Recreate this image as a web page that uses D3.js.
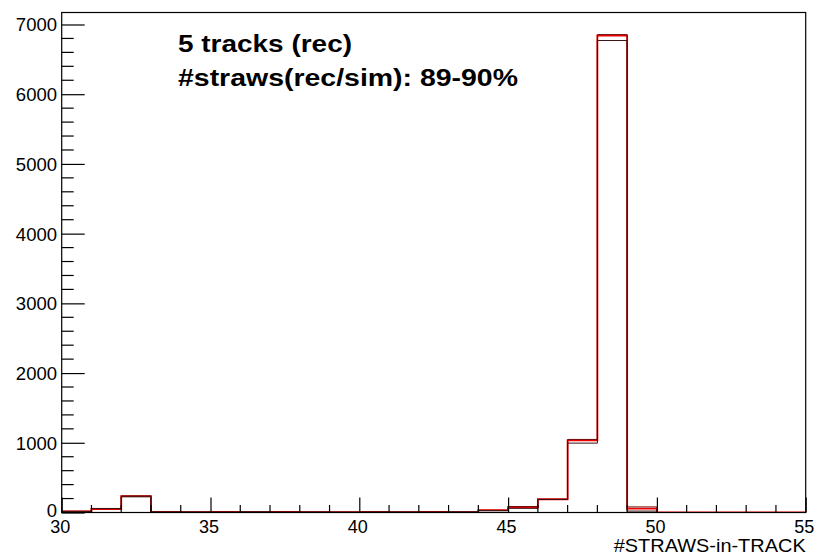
<!DOCTYPE html>
<html>
<head>
<meta charset="utf-8">
<script src="https://cdn.jsdelivr.net/npm/d3@7"></script>
<style>
  html, body { margin: 0; padding: 0; background: #fff; }
  svg { display: block; }
  text { font-family: "Liberation Sans", Arial, Helvetica, sans-serif; fill: #000; }
</style>
</head>
<body>
<svg id="chart" width="816" height="559"></svg>
<script>
// Bin lower edges (unit-width bins from 30 to 55)
const binEdges = d3.range(30, 55);

// Entries per bin for the overlaid reconstructions
const countsRed = [15, 50, 235, 8, 5, 10, 5, 9, 4, 6, 8, 5, 9, 6, 35, 75, 190, 1035, 6840, 55, 0, 0, 0, 0, 0];
const countsDark = [18, 58, 238, 6, 7, 6, 8, 5, 7, 5, 6, 7, 6, 8, 30, 85, 188, 1048, 6855, 80, 0, 0, 0, 0, 0];
const countsBlack = [12, 55, 225, 7, 6, 5, 9, 6, 6, 4, 7, 6, 5, 7, 25, 60, 188, 995, 6770, 20, 0, 0, 0, 0, 0];

const xTickValues = [30, 35, 40, 45, 50, 55];
const yTickValues = [0, 1000, 2000, 3000, 4000, 5000, 6000, 7000];

const titleLines = ["5 tracks (rec)", "#straws(rec/sim): 89-90%"];
const xAxisTitle = "#STRAWS-in-TRACK";

const frame = { left: 61.7, right: 805.7, top: 12.5, bottom: 512.5 };

const svg = d3.select("#chart");

const x = d3.scaleLinear().domain([30, 55]).range([frame.left, frame.right]);
const y = d3.scaleLinear().domain([0, 7172]).range([frame.bottom, frame.top]);

svg.append("defs").append("clipPath").attr("id", "plotClip")
  .append("rect")
  .attr("x", frame.left).attr("y", frame.top)
  .attr("width", frame.right - frame.left).attr("height", frame.bottom - frame.top);

// Step outline of a histogram, closed down to zero at both ends
function stepPoints(counts) {
  const pts = [[binEdges[0], 0]];
  counts.forEach((c, i) => {
    pts.push([binEdges[i], c]);
    pts.push([binEdges[i] + 1, c]);
  });
  pts.push([binEdges[binEdges.length - 1] + 1, 0]);
  return pts;
}
const line = d3.line().x(d => x(d[0])).y(d => y(d[1]));

const hist = svg.append("g").attr("clip-path", "url(#plotClip)");
[
  { data: countsRed, color: "#f00000", width: 1.8 },
  { data: countsDark, color: "#6e0a0a", width: 1 },
  { data: countsBlack, color: "#3a1010", width: 1 }
].forEach(s => {
  hist.append("path")
    .attr("d", line(stepPoints(s.data)))
    .attr("fill", "none")
    .attr("stroke", s.color)
    .attr("stroke-width", s.width)
    .attr("stroke-linejoin", "miter");
});

// Frame
svg.append("rect")
  .attr("x", frame.left).attr("y", frame.top)
  .attr("width", frame.right - frame.left).attr("height", frame.bottom - frame.top)
  .attr("fill", "none").attr("stroke", "#000").attr("stroke-width", 1.2);

// Y axis: major ticks every 1000, minor every 200, drawn inward
const yAxis = d3.axisRight(y).tickValues(yTickValues).tickSize(23).tickFormat("");
const gy = svg.append("g").attr("transform", `translate(${frame.left},0)`).call(yAxis);
gy.select(".domain").remove();
gy.selectAll(".tick line").attr("stroke", "#000").attr("stroke-width", 1.2);
const yMinor = d3.range(0, 7172, 200).filter(v => v % 1000 !== 0);
svg.append("g").selectAll("line").data(yMinor).join("line")
  .attr("x1", frame.left).attr("x2", frame.left + 12)
  .attr("y1", d => y(d)).attr("y2", d => y(d))
  .attr("stroke", "#000").attr("stroke-width", 1.2);
svg.append("g").selectAll("text").data(yTickValues).join("text")
  .attr("x", 57).attr("y", d => d === 0 ? 516.7 : y(d) + 7)
  .attr("text-anchor", "end").attr("font-size", 18.5)
  .text(d => d);

// X axis: major ticks every 5, minor every 1, drawn upward
const xAxis = d3.axisTop(x).tickValues(xTickValues).tickSize(15).tickFormat("");
const gx = svg.append("g").attr("transform", `translate(0,${frame.bottom})`).call(xAxis);
gx.select(".domain").remove();
gx.selectAll(".tick line").attr("stroke", "#000").attr("stroke-width", 1.2);
const xMinor = d3.range(31, 55).filter(v => v % 5 !== 0);
svg.append("g").selectAll("line").data(xMinor).join("line")
  .attr("x1", d => x(d)).attr("x2", d => x(d))
  .attr("y1", frame.bottom).attr("y2", frame.bottom - 7.5)
  .attr("stroke", "#000").attr("stroke-width", 1.2);
svg.append("g").selectAll("text").data(xTickValues).join("text")
  .attr("x", d => x(d) - 1.5).attr("y", 533.3)
  .attr("text-anchor", "middle").attr("font-size", 18)
  .text(d => d);

// Axis title, right-aligned to the frame
svg.append("text")
  .attr("x", frame.right).attr("y", 552)
  .attr("text-anchor", "end").attr("font-size", 19)
  .attr("textLength", 192).attr("lengthAdjust", "spacingAndGlyphs")
  .text(xAxisTitle);

// Annotation
const titleBaselines = [51.7, 86];
const titleWidths = [174, 340];
titleLines.forEach((t, i) => {
  svg.append("text")
    .attr("x", 178).attr("y", titleBaselines[i])
    .attr("font-size", 23).attr("font-weight", "bold")
    .attr("textLength", titleWidths[i]).attr("lengthAdjust", "spacingAndGlyphs")
    .text(t);
});
</script>
</body>
</html>
